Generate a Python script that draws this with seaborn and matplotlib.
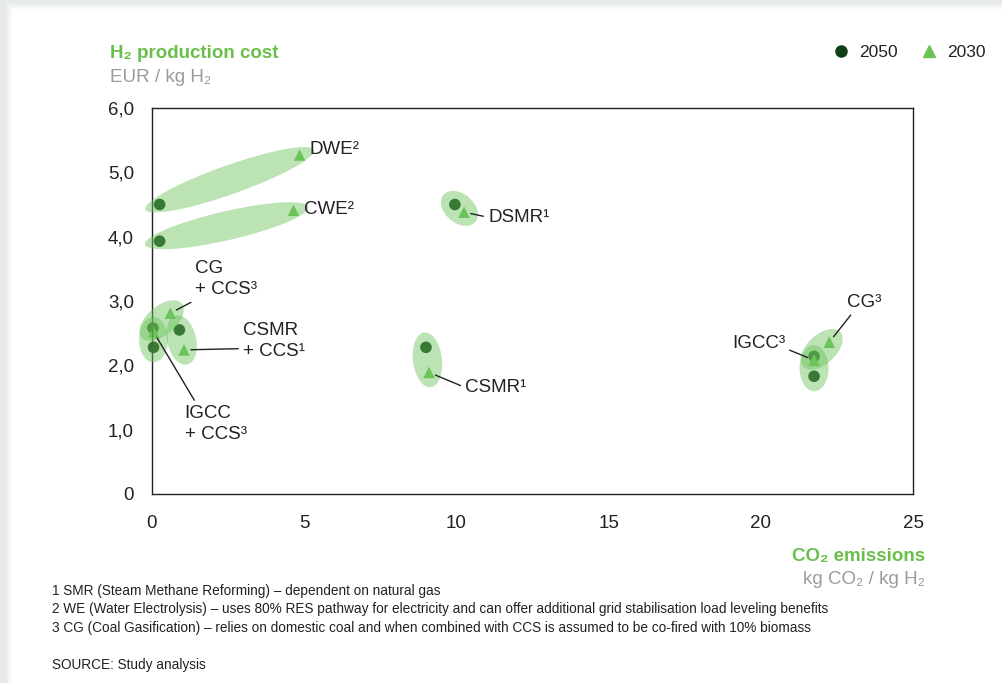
import numpy as np
import pandas as pd
import matplotlib
matplotlib.use("Agg")
import matplotlib.pyplot as plt
import seaborn as sns
from matplotlib.patches import Ellipse, Rectangle
from matplotlib.lines import Line2D
from matplotlib.transforms import IdentityTransform

# ---------------- data ----------------
technologies = ["DWE", "CWE", "DSMR", "CSMR", "CG + CCS", "IGCC + CCS",
                "CSMR + CCS", "CG", "IGCC"]
labels = ["DWE²", "CWE²", "DSMR¹", "CSMR¹", "CG\n+ CCS³", "IGCC\n+ CCS³",
          "CSMR\n+ CCS¹", "CG³", "IGCC³"]
co2_2050 = [0.25, 0.25, 9.95, 9.0, 0.03, 0.05, 0.9, 21.75, 21.75]
cost_2050 = [4.50, 3.93, 4.50, 2.28, 2.58, 2.28, 2.55, 2.14, 1.83]
co2_2030 = [4.85, 4.65, 10.25, 9.1, 0.6, 0.05, 1.05, 22.25, 21.75]
cost_2030 = [5.27, 4.41, 4.38, 1.89, 2.81, 2.52, 2.24, 2.36, 2.08]
years = ["2050", "2030"]
x_ticks = [0, 5, 10, 15, 20, 25]
y_ticks = [0, 1, 2, 3, 4, 5, 6]
y_tick_labels = ["0", "1,0", "2,0", "3,0", "4,0", "5,0", "6,0"]
footnotes = [
    "1 SMR (Steam Methane Reforming) – dependent on natural gas",
    "2 WE (Water Electrolysis) – uses 80% RES pathway for electricity and can offer additional grid stabilisation load leveling benefits",
    "3 CG (Coal Gasification) – relies on domestic coal and when combined with CCS is assumed to be co-fired with 10% biomass",
]
source = "SOURCE: Study analysis"

# ---------------- style ----------------
GREEN = "#6abf4b"
LIGHT = "#6cc35a"
DARK = "#0e3f17"
GREY = "#9b9b9b"
TXT = "#222222"

sns.set_theme(style="white")
plt.rcParams["font.family"] = ["Liberation Sans", "DejaVu Sans"]

W, H = 1003, 683
fig = plt.figure(figsize=(W / 100, H / 100), dpi=100)
fig.patch.set_facecolor("#e6e9e9")
# white card with soft shadow
for i, c in enumerate(["#eceeee", "#f2f4f4", "#f8f9f9"]):
    fig.add_artist(Rectangle(((6 + 2 * i) / W, 0), 1, (H - 3 - 2 * i) / H,
                             transform=fig.transFigure, facecolor=c, edgecolor="none", zorder=-5))
fig.add_artist(Rectangle((12 / W, 0), 1, (H - 9) / H, transform=fig.transFigure,
                         facecolor="white", edgecolor="none", zorder=-4))

ax = fig.add_axes([152 / W, 1 - 494 / H, (913 - 152) / W, (494 - 108) / H])
ax.set_facecolor("none")

df = pd.DataFrame({
    "tech": technologies * 2,
    "co2": co2_2050 + co2_2030,
    "cost": cost_2050 + cost_2030,
    "year": [years[0]] * len(technologies) + [years[1]] * len(technologies),
})

sns.scatterplot(data=df, x="co2", y="cost", hue="year", style="year",
                palette={"2050": DARK, "2030": LIGHT},
                markers={"2050": "o", "2030": "^"}, s=70, linewidth=0,
                legend=False, ax=ax, zorder=2)
for coll in ax.collections:
    coll.set_clip_on(False)

ax.set_xlim(0, 25)
ax.set_ylim(0, 6)
ax.set_xticks(x_ticks)
ax.set_xticklabels([str(t) for t in x_ticks])
ax.set_yticks(y_ticks)
ax.set_yticklabels(y_tick_labels)
ax.tick_params(axis="both", length=0, labelsize=13.5, colors=TXT)
ax.tick_params(axis="y", pad=13)
ax.tick_params(axis="x", pad=15)
ax.set_xlabel("")
ax.set_ylabel("")
for sp in ax.spines.values():
    sp.set_visible(True)
    sp.set_color("#222222")
    sp.set_linewidth(1.0)

# ellipses grouping 2050/2030 pairs (drawn in pixel space)
for i in range(len(technologies)):
    p1 = ax.transData.transform((co2_2050[i], cost_2050[i]))
    p2 = ax.transData.transform((co2_2030[i], cost_2030[i]))
    c = (p1 + p2) / 2
    d = p2 - p1
    L = np.hypot(d[0], d[1])
    ang = np.degrees(np.arctan2(d[1], d[0]))
    e = Ellipse(c, L + 30, 29, angle=ang, transform=IdentityTransform(),
                facecolor=LIGHT, alpha=0.45, edgecolor="none", zorder=3,
                clip_on=False)
    ax.add_patch(e)

# labels (offset in pixels from 2030 point)
label_style = [
    # dx, dy, ha, relpos or None
    (10, 5, "left", None),
    (10, 1, "left", None),
    (24, -5, "left", (0, 0.5)),
    (36, -15, "left", (0, 0.5)),
    (25, 34, "left", (0.05, 0.0)),
    (31, -92, "left", (0.2, 1.0)),
    (59, 9, "left", (0, 0.3)),
    (18, 40, "left", (0.2, 0.0)),
    (-29, 17, "right", (1.0, 0.2)),
]
for i, (dx, dy, ha, rp) in enumerate(label_style):
    kw = {}
    if rp is not None:
        kw["arrowprops"] = dict(arrowstyle="-", color=TXT, lw=1.0,
                                shrinkA=1, shrinkB=5, relpos=rp)
    ax.annotate(labels[i], xy=(co2_2030[i], cost_2030[i]), xytext=(dx, dy),
                textcoords="offset pixels", ha=ha, va="center", fontsize=13.5,
                color=TXT, linespacing=1.35, zorder=6, annotation_clip=False, **kw)

# legend
handles = [Line2D([], [], marker="o", color=DARK, linestyle="none", markersize=8),
           Line2D([], [], marker="^", color=LIGHT, linestyle="none", markersize=9)]
ax.legend(handles, years, ncol=2, frameon=False, loc="center right",
          bbox_to_anchor=(1001 / W, 1 - 52 / H), bbox_transform=fig.transFigure,
          fontsize=12.5, handletextpad=0.55, columnspacing=1.3, handlelength=1.0,
          labelcolor=TXT)

# axis titles
fig.text(110 / W, 1 - 53 / H, "H₂ production cost", color=GREEN, fontsize=13.5,
         fontweight="bold", ha="left", va="center")
fig.text(110 / W, 1 - 77 / H, "EUR / kg H₂", color=GREY, fontsize=13.5,
         ha="left", va="center")
fig.text(925 / W, 1 - 557 / H, "CO₂ emissions", color=GREEN, fontsize=13.5,
         fontweight="bold", ha="right", va="center")
fig.text(925 / W, 1 - 580 / H, "kg CO₂ / kg H₂", color=GREY, fontsize=13.5,
         ha="right", va="center")

# footnotes
narrow = ["Liberation Sans Narrow", "Liberation Sans", "DejaVu Sans"]
for k, t in enumerate(footnotes):
    fig.text(52 / W, 1 - (591 + 18.5 * k) / H, t, fontsize=9.8, color=TXT,
             ha="left", va="center", family=narrow)
fig.text(52 / W, 1 - 665 / H, source, fontsize=9.8, color=TXT,
         ha="left", va="center", family=narrow)

fig.savefig("out.png", dpi=100)
